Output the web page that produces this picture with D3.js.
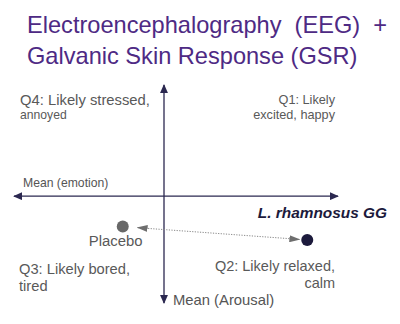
<!DOCTYPE html>
<html>
<head>
<meta charset="utf-8">
<script src="https://cdn.jsdelivr.net/npm/d3@7"></script>
<style>
  body { margin: 0; background: #fff; }
  text { font-family: "Liberation Sans", Arial, sans-serif; }
</style>
</head>
<body>
<div id="chart-area"></div>
<script>
// chart values
var titleLines = ["Electroencephalography  (EEG)  +", "Galvanic Skin Response (GSR)"];
var groups = ["Placebo", "L. rhamnosus GG"];
var emotion = [-0.275, 0.955];   // x: mean emotion
var arousal = [-0.285, -0.41];   // y: mean arousal
var quadrants = [
  {name: "Q1", lines: ["Q1: Likely", "excited, happy"]},
  {name: "Q2", lines: ["Q2: Likely relaxed,", "calm"]},
  {name: "Q3", lines: ["Q3: Likely bored,", "tired"]},
  {name: "Q4", lines: ["Q4: Likely stressed,", "annoyed"]}
];
var axisLabels = ["Mean (emotion)", "Mean (Arousal)"];

var width = 400, height = 324;

var svg = d3.select("#chart-area")
  .append("svg")
  .attr("width", width)
  .attr("height", height);

var defs = svg.append("defs");
function marker(id, color, w, h) {
  defs.append("marker")
    .attr("id", id)
    .attr("viewBox", "0 0 10 10")
    .attr("refX", 9).attr("refY", 5)
    .attr("markerWidth", w).attr("markerHeight", h)
    .attr("markerUnits", "userSpaceOnUse")
    .attr("orient", "auto-start-reverse")
    .attr("preserveAspectRatio", "none")
    .append("path")
    .attr("d", "M0,0 L10,5 L0,10 Z")
    .attr("fill", color);
}
marker("axisArrow", "#2b2850", 9, 8);
marker("dotArrow", "#6e6e6e", 11, 7);

// title
svg.append("g").selectAll("text")
  .data(titleLines)
  .enter().append("text")
  .attr("x", 27)
  .attr("y", (d, i) => 33 + i * 30.5)
  .attr("font-size", "23.6px")
  .attr("fill", "#4e2a84")
  .attr("xml:space", "preserve")
  .text(d => d);

var x = d3.scaleLinear().domain([-1, 1.16]).range([14, 338]);
var y = d3.scaleLinear().domain([-1, 1.04]).range([303, 85]);

// axes
svg.append("line")
  .attr("x1", x(1.16)).attr("x2", x(-1))
  .attr("y1", y(0)).attr("y2", y(0))
  .attr("stroke", "#2b2850").attr("stroke-width", 1.3)
  .attr("marker-start", "url(#axisArrow)")
  .attr("marker-end", "url(#axisArrow)");
svg.append("line")
  .attr("x1", x(0)).attr("x2", x(0))
  .attr("y1", y(-1)).attr("y2", y(1.04))
  .attr("stroke", "#2b2850").attr("stroke-width", 1.3)
  .attr("marker-start", "url(#axisArrow)")
  .attr("marker-end", "url(#axisArrow)");

svg.append("text")
  .attr("x", 23).attr("y", 187)
  .attr("font-size", "12.2px").attr("fill", "#555")
  .text(axisLabels[0]);
svg.append("text")
  .attr("x", 173).attr("y", 305)
  .attr("font-size", "14.8px").attr("fill", "#555")
  .text(axisLabels[1]);

// quadrant labels
var q = {};
quadrants.forEach(d => q[d.name] = d.lines);
function label(lines, xp, y0, dy, anchor, sizes) {
  svg.append("g").selectAll("text")
    .data(lines)
    .enter().append("text")
    .attr("x", xp)
    .attr("y", (d, i) => y0 + i * dy)
    .attr("text-anchor", anchor)
    .attr("font-size", (d, i) => sizes[i])
    .attr("fill", "#595959")
    .text(d => d);
}
label(q.Q4, 20, 105, 14, "start", ["14.8px", "12.2px"]);
label(q.Q1, 335, 104, 14.5, "end", ["12.7px", "12.7px"]);
label(q.Q3, 19, 274, 17, "start", ["14.7px", "14.7px"]);
label(q.Q2, 335, 271, 16.5, "end", ["14.5px", "14.5px"]);

// dotted double arrow between groups
var p0 = [x(emotion[0]), y(arousal[0])], p1 = [x(emotion[1]), y(arousal[1])];
var dx = p1[0] - p0[0], dy = p1[1] - p0[1], len = Math.sqrt(dx * dx + dy * dy);
var gap0 = 15, gap1 = 8;
svg.append("line")
  .attr("x1", p0[0] + dx / len * gap0).attr("y1", p0[1] + dy / len * gap0)
  .attr("x2", p1[0] - dx / len * gap1).attr("y2", p1[1] - dy / len * gap1)
  .attr("stroke", "#888").attr("stroke-width", 1)
  .attr("stroke-dasharray", "1.2,1.4")
  .attr("marker-start", "url(#dotArrow)")
  .attr("marker-end", "url(#dotArrow)");

// points
var colors = ["#686868", "#1c1a3c"];
svg.append("g").selectAll("circle")
  .data(groups)
  .enter().append("circle")
  .attr("cx", (d, i) => x(emotion[i]))
  .attr("cy", (d, i) => y(arousal[i]))
  .attr("r", 6)
  .attr("fill", (d, i) => colors[i]);

// point labels
svg.append("text")
  .attr("x", x(emotion[0]) - 7).attr("y", 246)
  .attr("text-anchor", "middle")
  .attr("font-size", "14.9px").attr("fill", "#595959")
  .text(groups[0]);
svg.append("text")
  .attr("x", 387).attr("y", 218)
  .attr("text-anchor", "end")
  .attr("font-size", "15.4px").attr("font-weight", "bold").attr("font-style", "italic")
  .attr("fill", "#1c1a3c")
  .text(groups[1]);
</script>
</body>
</html>
